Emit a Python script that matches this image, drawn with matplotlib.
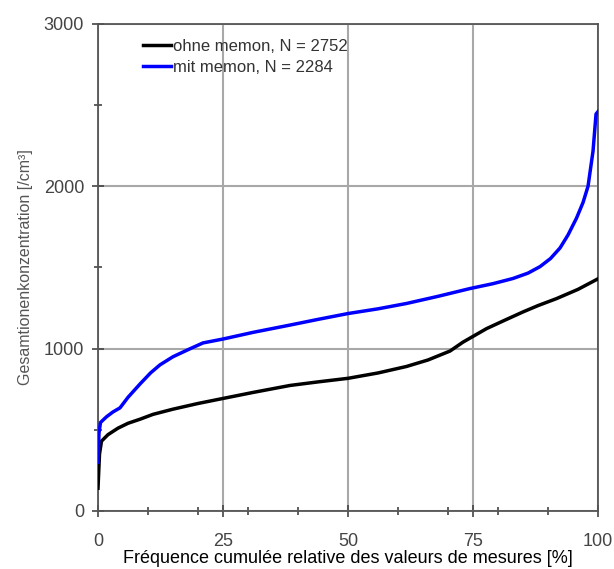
import matplotlib
matplotlib.use('Agg')
import matplotlib.pyplot as plt
from matplotlib.ticker import MultipleLocator

plt.rcParams['font.family'] = ['Liberation Sans', 'DejaVu Sans']

# cumulative frequency [%] and concentration [/cm³]
ohne_x = [0, 0.3, 0.7, 2, 4, 6, 8.4, 11, 15, 20, 25, 31, 38.4, 44, 50, 56, 61.7, 66,
          70.4, 73, 77.7, 81, 85, 88, 91.7, 96, 100]
ohne_y = [140, 350, 430, 470, 510, 540, 565, 595, 627, 662, 693, 730, 773, 795, 817, 850,
          890, 930, 985, 1040, 1123, 1170, 1226, 1265, 1308, 1365, 1430]

mit_x = [0, 0.2, 0.5, 1.7, 3, 4.4, 6, 8.4, 10.5, 12.4, 15, 18.4, 21, 25, 31, 38.4, 44,
         50, 56, 61.7, 68, 74.4, 79, 83, 86, 88.4, 90.5, 92.4, 94, 95.7, 97, 98, 99,
         99.6, 100]
mit_y = [300, 480, 545, 580, 610, 635, 700, 782, 850, 900, 950, 999, 1035, 1059, 1100,
         1145, 1180, 1216, 1245, 1278, 1322, 1370, 1400, 1432, 1465, 1505, 1555, 1620,
         1700, 1804, 1900, 2000, 2217, 2445, 2460]

label_ohne = 'ohne memon, N = 2752'
label_mit = 'mit memon, N = 2284'

fig = plt.figure(figsize=(6.14, 5.69), dpi=100)
ax = fig.add_axes([0.1596, 0.102, 0.8144, 0.856])

ax.plot(ohne_x, ohne_y, color='black', lw=2.5, label=label_ohne, zorder=3)
ax.plot(mit_x, mit_y, color='#0000ff', lw=2.5, label=label_mit, zorder=3)

ax.set_xlim(0, 100)
ax.set_ylim(0, 3000)
ax.xaxis.set_major_locator(MultipleLocator(25))
ax.xaxis.set_minor_locator(MultipleLocator(10))
ax.yaxis.set_major_locator(MultipleLocator(1000))
ax.yaxis.set_minor_locator(MultipleLocator(500))
ax.grid(True, which='major', color='#a8a8a8', lw=1.5, zorder=1)
ax.tick_params(which='both', direction='inout', colors='#444444', labelsize=13,
               top=False, right=False, width=1.2)
ax.tick_params(which='major', length=8, pad=6)
ax.tick_params(axis='x', which='major', pad=12)
ax.tick_params(which='minor', length=6)
for s in ax.spines.values():
    s.set_color('#555555')
    s.set_linewidth(1.3)

ax.set_ylabel('Gesamtionenkonzentration [/cm³]', color='#555555', fontsize=11.5, labelpad=8)
ax.set_xlabel('Fréquence cumulée relative des valeurs de mesures [%]', color='black',
              fontsize=13, labelpad=0)

ax.legend(loc='upper left', bbox_to_anchor=(0.06, 1.0), frameon=False, fontsize=12,
          handlelength=1.7, handletextpad=0.1, labelspacing=0.35, labelcolor='#333333')

fig.savefig('out.png', dpi=100)
